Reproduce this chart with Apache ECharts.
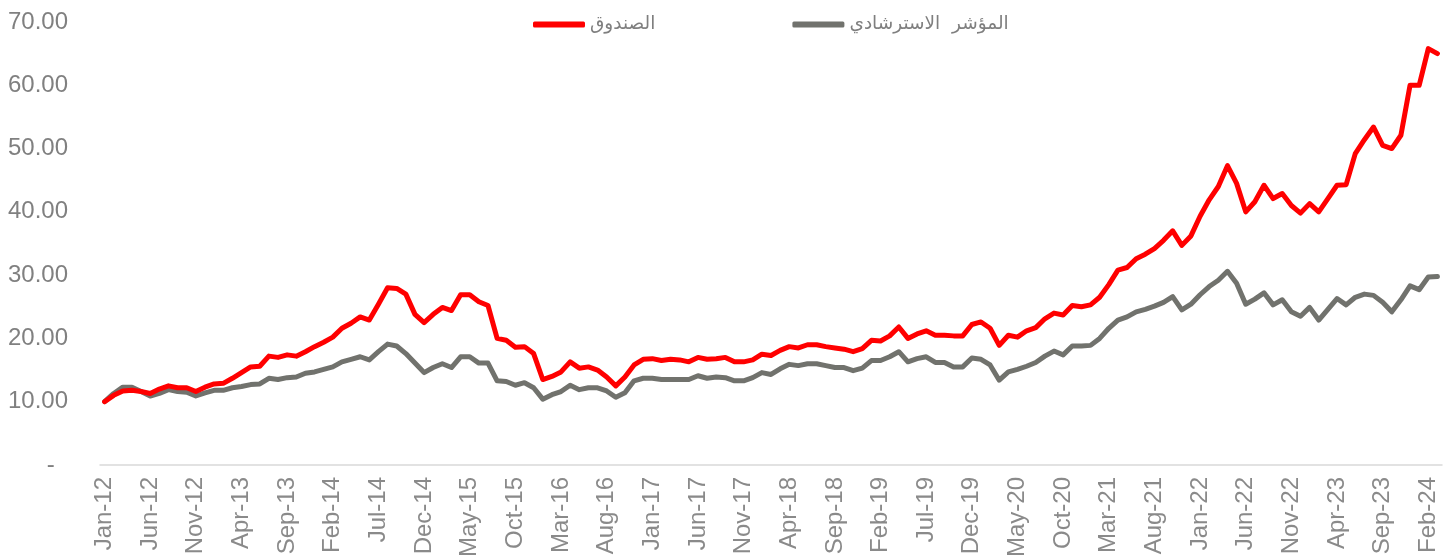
<!DOCTYPE html>
<html>
<head>
<meta charset="utf-8">
<script src="https://cdn.jsdelivr.net/npm/echarts@6/dist/echarts.min.js"></script>
<style>
  html, body { margin: 0; padding: 0; background: #fff; }
  #chart { width: 1455px; height: 560px; }
</style>
</head>
<body>
<div id="chart"></div>
<script>
// month labels Jan-12 .. Mar-24
var monthNames = ['Jan', 'Feb', 'Mar', 'Apr', 'May', 'Jun', 'Jul', 'Aug', 'Sep', 'Oct', 'Nov', 'Dec'];
var years = ['12', '13', '14', '15', '16', '17', '18', '19', '20', '21', '22', '23', '24'];
var lastMonthCount = 3; // 2024 stops at Mar
var months = [];
years.forEach(function (y, yi) {
  var n = yi === years.length - 1 ? lastMonthCount : 12;
  for (var m = 0; m < n; m++) {
    months.push(monthNames[m] + '-' + y);
  }
});

var fundName = 'الصندوق';
var benchName = 'المؤشر  الاسترشادي';

// الصندوق
var fund = [
  10.0, 11.0, 11.7, 11.8, 11.6, 11.3, 12.0, 12.5, 12.2, 12.2, 11.6, 12.3,
  12.8, 12.9, 13.7, 14.6, 15.5, 15.6, 17.2, 17.0, 17.4, 17.2, 17.9, 18.7,
  19.4, 20.2, 21.6, 22.4, 23.4, 22.9, 25.4, 28.0, 27.9, 27.0, 23.8, 22.5,
  23.8, 24.9, 24.4, 26.9, 26.9, 25.8, 25.2, 20.0, 19.7, 18.6, 18.7, 17.6,
  13.5, 14.0, 14.7, 16.3, 15.3, 15.5, 15.0, 13.9, 12.5, 13.9, 15.8, 16.7,
  16.8, 16.5, 16.7, 16.6, 16.3, 17.0, 16.7, 16.8, 17.0, 16.3, 16.3, 16.6,
  17.5, 17.3, 18.1, 18.7, 18.5, 19.0, 19.0, 18.7, 18.5, 18.3, 17.9, 18.4,
  19.7, 19.6, 20.4, 21.8, 20.0, 20.7, 21.2, 20.5, 20.5, 20.4, 20.4, 22.2,
  22.6, 21.6, 18.9, 20.5, 20.2, 21.2, 21.7, 23.1, 24.0, 23.7, 25.2, 25.0,
  25.3, 26.5, 28.5, 30.8, 31.2, 32.6, 33.3, 34.2, 35.5, 37.0, 34.7, 36.2,
  39.3, 41.9, 44.0, 47.3, 44.5, 40.0, 41.6, 44.2, 42.1, 42.9, 41.0, 39.8,
  41.3, 40.0, 42.1, 44.2, 44.3, 49.2, 51.4, 53.4, 50.5, 50.0, 52.1, 60.0,
  60.0, 65.8, 65.0
];

// المؤشر الاسترشادي
var bench = [
  10.0, 11.3, 12.3, 12.3, 11.6, 10.9, 11.3, 11.9, 11.6, 11.5, 10.9, 11.4,
  11.8, 11.8, 12.2, 12.4, 12.7, 12.8, 13.7, 13.5, 13.8, 13.9, 14.5, 14.7,
  15.1, 15.5, 16.3, 16.7, 17.1, 16.6, 17.9, 19.1, 18.8, 17.6, 16.1, 14.6,
  15.4, 16.0, 15.4, 17.1, 17.1, 16.1, 16.1, 13.3, 13.2, 12.6, 13.0, 12.2,
  10.4, 11.1, 11.6, 12.6, 11.9, 12.2, 12.2, 11.7, 10.7, 11.4, 13.3, 13.7,
  13.7, 13.5, 13.5, 13.5, 13.5, 14.1, 13.7, 13.9, 13.8, 13.3, 13.3, 13.8,
  14.6, 14.3, 15.2, 15.9, 15.7, 16.0, 16.0, 15.7, 15.4, 15.4, 14.9, 15.3,
  16.5, 16.5, 17.1, 17.9, 16.3, 16.8, 17.1, 16.2, 16.2, 15.5, 15.5, 16.9,
  16.7, 15.8, 13.4, 14.7, 15.1, 15.6, 16.2, 17.2, 18.0, 17.4, 18.8, 18.8,
  18.9, 20.0, 21.6, 22.9, 23.4, 24.2, 24.6, 25.1, 25.7, 26.6, 24.5, 25.4,
  26.9, 28.2, 29.2, 30.6, 28.7, 25.4, 26.2, 27.2, 25.3, 26.1, 24.2, 23.5,
  24.9, 22.9, 24.6, 26.3, 25.3, 26.5, 27.0, 26.8, 25.7, 24.2, 26.1, 28.3,
  27.7, 29.7, 29.8
];

var chart = echarts.init(document.getElementById('chart'), null, { renderer: 'canvas' });

var option = {
  animation: false,
  backgroundColor: '#ffffff',
  grid: {
    left: 100,
    right: 13,
    top: 22,
    bottom: 95
  },
  legend: {
    left: 528,
    top: 10,
    itemGap: 137,
    itemWidth: 52,
    itemHeight: 6,
    icon: 'roundRect',
    textStyle: {
      color: '#7f7f7f',
      fontSize: 18.5,
      fontFamily: 'DejaVu Sans'
    },
    data: [fundName, benchName]
  },
  xAxis: {
    type: 'category',
    boundaryGap: true,
    data: months,
    axisLine: { lineStyle: { color: '#d9d9d9', width: 1.5 } },
    axisTick: {
      interval: 4,
      length: 8,
      lineStyle: { color: '#d9d9d9', width: 1.5 }
    },
    axisLabel: {
      interval: 4,
      rotate: 90,
      margin: 12,
      color: '#8a8a8a',
      fontSize: 24,
      fontFamily: 'Liberation Sans'
    }
  },
  yAxis: {
    type: 'value',
    min: 0,
    max: 70,
    interval: 10,
    axisLine: { show: false },
    axisTick: { show: false },
    splitLine: { show: false },
    axisLabel: {
      margin: 32,
      color: '#808080',
      fontSize: 24,
      fontFamily: 'Liberation Sans',
      formatter: function (v) {
        return v === 0 ? '-  ' : v.toFixed(2);
      }
    }
  },
  series: [
    {
      name: fundName,
      type: 'line',
      data: fund,
      symbol: 'none',
      color: '#ff0000',
      lineStyle: { color: '#ff0000', width: 5, cap: 'round', join: 'round' },
      z: 3
    },
    {
      name: benchName,
      type: 'line',
      data: bench,
      symbol: 'none',
      color: '#71726d',
      lineStyle: { color: '#71726d', width: 5, cap: 'round', join: 'round' },
      z: 2
    }
  ]
};

chart.setOption(option);
</script>
</body>
</html>
